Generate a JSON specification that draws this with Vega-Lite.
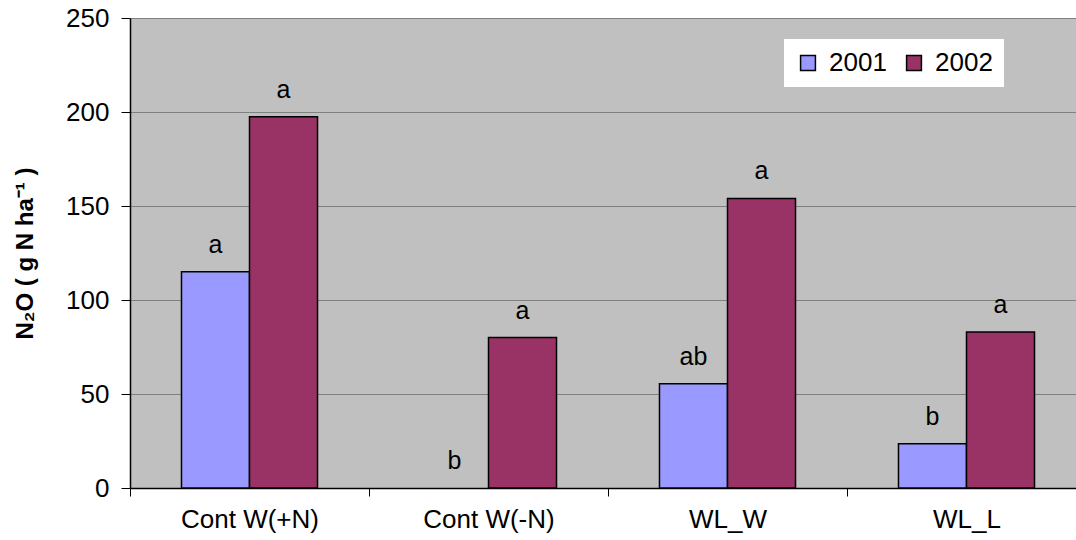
{
  "$schema": "https://vega.github.io/schema/vega-lite/v6.json",
  "autosize": {"type": "none"},
  "padding": {"left": 130, "top": 18, "right": 0, "bottom": 52},
  "width": 946,
  "height": 470,
  "background": "white",
  "config": {
    "view": {"fill": "#C0C0C0", "stroke": null},
    "font": "Liberation Sans"
  },
  "data": {
    "values": [
      {"treatment": "Cont W(+N)", "year": "2001", "n2o": 115, "sig": "a"},
      {"treatment": "Cont W(+N)", "year": "2002", "n2o": 197.5, "sig": "a"},
      {"treatment": "Cont W(-N)", "year": "2001", "n2o": 0, "sig": "b"},
      {"treatment": "Cont W(-N)", "year": "2002", "n2o": 80, "sig": "a"},
      {"treatment": "WL_W", "year": "2001", "n2o": 55.5, "sig": "ab"},
      {"treatment": "WL_W", "year": "2002", "n2o": 154, "sig": "a"},
      {"treatment": "WL_L", "year": "2001", "n2o": 23.5, "sig": "b"},
      {"treatment": "WL_L", "year": "2002", "n2o": 83, "sig": "a"}
    ]
  },
  "encoding": {
    "x": {
      "field": "treatment", "type": "nominal", "sort": null,
      "scale": {"paddingInner": 0, "paddingOuter": 0, "range": [0, 956]},
      "axis": {
        "title": null, "labelAngle": 0, "labelFontSize": 26, "labelColor": "black",
        "labelPadding": 10, "tickBand": "extent", "tickSize": 8, "tickColor": "black",
        "domainColor": "black", "domainWidth": 1.5, "grid": false
      }
    },
    "xOffset": {
      "field": "year", "type": "nominal",
      "scale": {"paddingInner": 0, "paddingOuter": 0.757}
    },
    "y": {
      "field": "n2o", "type": "quantitative",
      "scale": {"domain": [0, 250]},
      "axis": {
        "title": "N₂O ( g N ha⁻¹ )", "titleFontSize": 24, "titleFontWeight": "bold",
        "titleColor": "black", "titlePadding": 28,
        "values": [0, 50, 100, 150, 200, 250],
        "labelFontSize": 26, "labelColor": "black", "labelPadding": 12,
        "tickSize": 9, "tickColor": "black", "domainColor": "black", "domainWidth": 1.5,
        "grid": true, "gridColor": "#808080", "gridWidth": 1
      }
    }
  },
  "layer": [
    {
      "transform": [{"filter": "datum.n2o > 0"}],
      "mark": {"type": "bar", "stroke": "black", "strokeWidth": 1.5},
      "encoding": {
        "color": {
          "field": "year", "type": "nominal",
          "scale": {"domain": ["2001", "2002"], "range": ["#9999FF", "#993366"]},
          "legend": {
            "title": null, "orient": "none", "legendX": 654, "legendY": 21,
            "direction": "horizontal", "fillColor": "white", "padding": 11,
            "symbolType": "square", "symbolSize": 220, "symbolStrokeColor": "black",
            "symbolStrokeWidth": 1.5, "labelFontSize": 26, "labelColor": "black",
            "columnPadding": 14, "symbolOpacity": 1, "labelOffset": 8
          }
        }
      }
    },
    {
      "mark": {"type": "text", "fontSize": 25, "color": "black", "baseline": "alphabetic", "dy": -19},
      "encoding": {"text": {"field": "sig"}}
    }
  ]
}
